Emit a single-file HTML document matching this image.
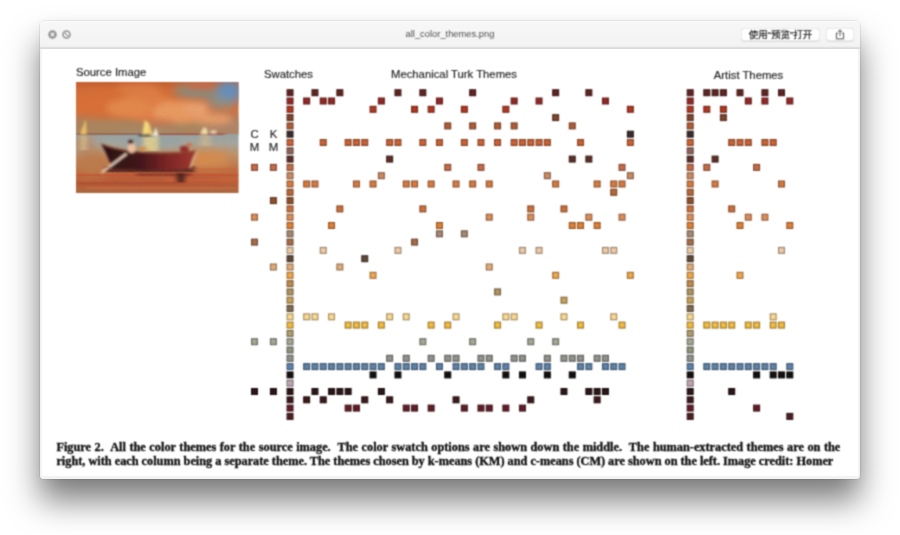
<!DOCTYPE html>
<html lang="zh-CN">
<head>
<meta charset="utf-8">
<title>all_color_themes.png</title>
<style>
html,body{margin:0;padding:0;}
body{width:900px;height:535px;background:#fff;overflow:hidden;position:relative;font-family:"Liberation Sans","Noto Sans CJK SC",sans-serif;}
.win{position:absolute;left:40px;top:21px;width:820px;height:457.7px;background:#f3f3f3;border-radius:4px 4px 3px 3px;
 box-shadow:0 0 0 0.6px rgba(0,0,0,.12),0 22px 32px rgba(0,0,0,.5),0 4px 14px rgba(0,0,0,.05);}
.bar{position:absolute;left:0;top:0;width:820px;height:27.4px;border-bottom:1.2px solid #dadada;box-sizing:border-box;border-radius:4px 4px 0 0;background:linear-gradient(#f7f7f7,#f3f3f3);box-shadow:inset 0 0.6px 0 #fff;filter:url(#soft);}
.title{position:absolute;left:0;right:0;top:7.4px;text-align:center;font-size:9.35px;line-height:12px;color:#505050;}
.tl{position:absolute;top:8.9px;width:9px;height:9px;}
.btn{position:absolute;top:6.5px;height:13px;background:#fff;border:0.5px solid #ebebeb;border-radius:3px;box-sizing:border-box;font-size:9.5px;line-height:12.5px;color:#222;text-align:center;box-shadow:0 0.6px 0.8px rgba(0,0,0,.1);-webkit-text-stroke:0.2px #222;}
.doc{position:absolute;left:2px;top:28px;width:815.5px;height:426.5px;background:#fff;overflow:hidden;filter:url(#soft);}
.lab{position:absolute;font-size:11.3px;line-height:13px;color:#1c1c1c;white-space:nowrap;-webkit-text-stroke:0.15px #1c1c1c;}
.cm{position:absolute;font-size:11.4px;line-height:12.7px;color:#1c1c1c;text-align:center;width:14px;-webkit-text-stroke:0.15px #1c1c1c;}
.grid{position:absolute;left:0;top:0;}
.cap{position:absolute;left:14.4px;top:390.7px;width:790px;font-family:"Liberation Serif",serif;font-weight:bold;font-size:12.3px;line-height:14px;color:#0c0c0c;-webkit-text-stroke:0.32px #0c0c0c;}
.cap div{white-space:pre;}
.pic{position:absolute;left:34.2px;top:33.2px;width:162.5px;height:111.2px;overflow:hidden;}
</style>
</head>
<body>
<svg width="0" height="0" style="position:absolute"><defs><filter id="soft" x="0" y="0" width="100%" height="100%" color-interpolation-filters="sRGB"><feConvolveMatrix order="3" kernelMatrix="0.0484 0.1232 0.0484 0.1232 0.3136 0.1232 0.0484 0.1232 0.0484" divisor="1" edgeMode="duplicate" preserveAlpha="false"/></filter></defs></svg>
<div class="win">
  <div class="bar">
    <svg class="tl" style="left:7.7px" viewBox="0 0 9 9"><circle cx="4.5" cy="4.5" r="4.25" fill="#939393"/><path d="M2.8 2.8L6.2 6.2M6.2 2.8L2.8 6.2" stroke="#f5f5f5" stroke-width="1.3" fill="none"/></svg>
    <svg class="tl" style="left:21.6px" viewBox="0 0 9 9"><circle cx="4.5" cy="4.5" r="4.25" fill="#939393"/><circle cx="4.5" cy="4.5" r="2.7" fill="#f5f5f5"/><path d="M2.6 2.6L6.4 6.4" stroke="#939393" stroke-width="1.3" fill="none"/></svg>
    <div class="title">all_color_themes.png</div>
    <div class="btn" style="left:701px;width:79px;">使用“预览”打开</div>
    <div class="btn" style="left:786px;width:28px;"><svg width="10" height="11" viewBox="0 0 10 11" style="position:absolute;left:7.9px;top:0.4px"><path d="M3.1 4.1H1.4V9.9H8.6V4.1H6.9" fill="none" stroke="#505050" stroke-width="1"/><path d="M5 7V1M3.1 2.8L5 0.9L6.9 2.8" fill="none" stroke="#505050" stroke-width="1"/></svg></div>
  </div>
  <div class="doc">
    <div class="lab" style="left:34px;top:16.5px;">Source Image</div>
    <div class="lab" style="left:222px;top:19px;">Swatches</div>
    <div class="lab" style="left:349px;top:19px;">Mechanical Turk Themes</div>
    <div class="lab" style="left:671.8px;top:19.5px;">Artist Themes</div>
    <div class="cm" style="left:205.5px;top:79.45px;">C<br>M</div>
    <div class="cm" style="left:224.5px;top:79.45px;">K<br>M</div>
    <div class="pic"><svg width="162.5" height="111.2" viewBox="0 0 162 111" preserveAspectRatio="none" style="display:block">
<defs>
<linearGradient id="sky" x1="0" y1="0" x2="0" y2="1">
<stop offset="0" stop-color="#c45e2e"/><stop offset="0.15" stop-color="#d36a34"/><stop offset="0.5" stop-color="#d8703a"/><stop offset="0.64" stop-color="#c0764a"/><stop offset="0.78" stop-color="#a8855f"/><stop offset="1" stop-color="#a98560"/>
</linearGradient>
<linearGradient id="sea" x1="0" y1="0" x2="0" y2="1">
<stop offset="0" stop-color="#96a4a6"/><stop offset="0.16" stop-color="#a4a8a0"/><stop offset="0.36" stop-color="#bc9068"/><stop offset="0.6" stop-color="#bf6e40"/><stop offset="0.85" stop-color="#b85c36"/><stop offset="1" stop-color="#ab6840"/>
</linearGradient>
<linearGradient id="hull" x1="0" y1="0" x2="1" y2="0">
<stop offset="0" stop-color="#2a1016"/><stop offset="0.4" stop-color="#40161a"/><stop offset="0.7" stop-color="#7e2626"/><stop offset="1" stop-color="#a03a30"/>
</linearGradient>
<filter id="b1" filterUnits="userSpaceOnUse" x="-5" y="-5" width="172" height="121"><feGaussianBlur stdDeviation="1.1"/></filter>
<filter id="b3" filterUnits="userSpaceOnUse" x="-20" y="-20" width="202" height="151"><feGaussianBlur stdDeviation="3"/></filter>
<filter id="b5" filterUnits="userSpaceOnUse" x="-20" y="-20" width="202" height="151"><feGaussianBlur stdDeviation="5"/></filter>
<filter id="bh" filterUnits="userSpaceOnUse" x="-20" y="-20" width="202" height="151"><feGaussianBlur stdDeviation="2.2 0.7"/></filter>
<filter id="tx" filterUnits="userSpaceOnUse" x="0" y="0" width="162" height="111"><feTurbulence type="fractalNoise" baseFrequency="0.35 0.6" numOctaves="2" seed="4"/><feColorMatrix type="matrix" values="0 0 0 0 0.45  0 0 0 0 0.2  0 0 0 0 0.1  0.9 0.9 0 0 -0.72"/></filter>
</defs>
<rect width="162" height="53" fill="url(#sky)"/>
<g filter="url(#b5)">
<ellipse cx="28" cy="22" rx="34" ry="12" fill="#d96e36"/>
<ellipse cx="152" cy="10" rx="13" ry="12" fill="#5c90c4"/>
<ellipse cx="120" cy="9" rx="22" ry="7" fill="#7c9088"/>
<ellipse cx="144" cy="21" rx="15" ry="6" fill="#8a9086"/>
<ellipse cx="150" cy="44" rx="20" ry="6" fill="#b0846c"/>
</g>
<g filter="url(#b3)">
<ellipse cx="70" cy="24" rx="28" ry="15" fill="#e07e44"/>
<ellipse cx="104" cy="30" rx="28" ry="11" fill="#ea9a60"/><ellipse cx="52" cy="26" rx="22" ry="9" fill="#e4884c"/>
<ellipse cx="136" cy="37" rx="20" ry="5.500" fill="#e69c6a"/>
<ellipse cx="124" cy="4" rx="17" ry="3" fill="#d8643c"/>
<ellipse cx="120" cy="26" rx="12" ry="6" fill="#eaa272"/>
<ellipse cx="62" cy="7" rx="22" ry="5" fill="#dc7c42"/>
<ellipse cx="84" cy="40" rx="14" ry="3" fill="#cc7650"/>
</g>
<rect y="52" width="162" height="59" fill="url(#sea)"/>
<g filter="url(#b5)">
<ellipse cx="130" cy="77" rx="24" ry="9" fill="#d68c50"/>
<ellipse cx="18" cy="82" rx="18" ry="12" fill="#bc7a4c"/>
<ellipse cx="74" cy="59" rx="34" ry="5" fill="#93a4aa"/><ellipse cx="6" cy="62" rx="14" ry="8" fill="#b48c70"/>
<ellipse cx="80" cy="100" rx="70" ry="6" fill="#b85634"/>
</g>
<g filter="url(#bh)">
<rect x="0" y="51.200" width="62" height="1.600" fill="#8a4a38" opacity=".7"/>
<rect x="80" y="51.200" width="68" height="1.800" fill="#a04034" opacity=".7"/>
<rect x="4" y="54" width="7" height="14" fill="#d8c08a" opacity=".7"/>
<rect x="67" y="55" width="15" height="14" fill="#e4d490" opacity=".85"/>
<rect x="124" y="54" width="10" height="10" fill="#d8c090" opacity=".55"/>
<rect x="0" y="92" width="162" height="2" fill="#c84c30" opacity=".7"/>
<rect x="90" y="97" width="72" height="2" fill="#d06038" opacity=".7"/>
<rect x="0" y="100" width="110" height="2.400" fill="#a8482c" opacity=".7"/>
<rect x="10" y="105" width="150" height="2" fill="#c07048" opacity=".7"/>
<rect x="110" y="86" width="50" height="2" fill="#c8643a" opacity=".6"/>
<rect x="30" y="84" width="88" height="6" fill="#4a1c1c" opacity=".85"/>
<rect x="60" y="91" width="56" height="3" fill="#7a2c24" opacity=".6"/>
<rect x="100" y="91" width="9" height="9" fill="#3a1818" opacity=".8"/>
</g>
<rect width="162" height="111" filter="url(#tx)" opacity=".3"/>
<g filter="url(#b1)">
<path d="M9.800 37L4 52.500H10.500Z" fill="#ecc068"/>
<path d="M68.500 38L66 53.500H74.500L72.500 41Z" fill="#f4d87c"/>
<path d="M73 41.500L71 53H76.500Z" fill="#eccc70"/>
<path d="M79.500 45.500L76.500 54H82.500Z" fill="#f8f0d0"/>
<path d="M127 45.500L123.500 52.500H132L130 46Z" fill="#f0dca8"/>
<rect x="134" y="48.500" width="6" height="3" fill="#eed8c0"/>
<rect x="62" y="52.200" width="12" height="1.600" fill="#3a2018"/>
<path d="M24.500 61.500C40 68 60 70.500 82 70.500C98 70.500 110 70 119.500 68.500L121 70.500C118 76 116 81 114 86.500C90 88.500 60 88 36 86C33 78 29 68 24.500 61.500Z" fill="url(#hull)"/>
<path d="M25 62C40 68 62 71 84 71C98 71 110 70.300 119 69" stroke="#8a4a30" stroke-width="1.100" fill="none"/>
<path d="M120.500 69.500C117.500 75 115.500 80 114 86" stroke="#f0c8a0" stroke-width="1.300" fill="none"/>
<path d="M50.500 71.500L25.500 90.500" stroke="#f0d8c0" stroke-width="2" fill="none"/>
<ellipse cx="55.500" cy="66" rx="4" ry="5" fill="#ecc0a0"/>
<ellipse cx="54.500" cy="59.800" rx="2.600" ry="2.200" fill="#4a2418"/>

<ellipse cx="108" cy="67" rx="4.500" ry="3.300" fill="#94302c"/>
<ellipse cx="113" cy="62.500" rx="2.800" ry="1.900" fill="#c87048"/>
<ellipse cx="66" cy="66.500" rx="5" ry="1.800" fill="#d09048"/>
</g>
</svg>
</div>
    <svg class="grid" width="815" height="426" viewBox="0 0 815 426"><g stroke-width="1.15"><rect x="245.12" y="40.78" width="5.85" height="5.85" fill="#622422" stroke="#3f1918"/><rect x="645.28" y="40.78" width="5.85" height="5.85" fill="#622422" stroke="#3f1918"/><rect x="270.02" y="40.78" width="5.85" height="5.85" fill="#622422" stroke="#3f1918"/><rect x="294.93" y="40.78" width="5.85" height="5.85" fill="#622422" stroke="#3f1918"/><rect x="353.03" y="40.78" width="5.85" height="5.85" fill="#622422" stroke="#3f1918"/><rect x="377.93" y="40.78" width="5.85" height="5.85" fill="#622422" stroke="#3f1918"/><rect x="427.73" y="40.78" width="5.85" height="5.85" fill="#622422" stroke="#3f1918"/><rect x="510.73" y="40.78" width="5.85" height="5.85" fill="#622422" stroke="#3f1918"/><rect x="543.93" y="40.78" width="5.85" height="5.85" fill="#622422" stroke="#3f1918"/><rect x="661.88" y="40.78" width="5.85" height="5.85" fill="#622422" stroke="#3f1918"/><rect x="670.18" y="40.78" width="5.85" height="5.85" fill="#622422" stroke="#3f1918"/><rect x="678.48" y="40.78" width="5.85" height="5.85" fill="#622422" stroke="#3f1918"/><rect x="695.08" y="40.78" width="5.85" height="5.85" fill="#622422" stroke="#3f1918"/><rect x="719.98" y="40.78" width="5.85" height="5.85" fill="#622422" stroke="#3f1918"/><rect x="736.58" y="40.78" width="5.85" height="5.85" fill="#622422" stroke="#3f1918"/><rect x="245.12" y="49.08" width="5.85" height="5.85" fill="#942825" stroke="#601d1c"/><rect x="645.28" y="49.08" width="5.85" height="5.85" fill="#942825" stroke="#601d1c"/><rect x="261.73" y="49.08" width="5.85" height="5.85" fill="#942825" stroke="#601d1c"/><rect x="278.32" y="49.08" width="5.85" height="5.85" fill="#942825" stroke="#601d1c"/><rect x="286.62" y="49.08" width="5.85" height="5.85" fill="#942825" stroke="#601d1c"/><rect x="336.43" y="49.08" width="5.85" height="5.85" fill="#942825" stroke="#601d1c"/><rect x="394.53" y="49.08" width="5.85" height="5.85" fill="#942825" stroke="#601d1c"/><rect x="469.23" y="49.08" width="5.85" height="5.85" fill="#942825" stroke="#601d1c"/><rect x="494.13" y="49.08" width="5.85" height="5.85" fill="#942825" stroke="#601d1c"/><rect x="560.53" y="49.08" width="5.85" height="5.85" fill="#942825" stroke="#601d1c"/><rect x="703.38" y="49.08" width="5.85" height="5.85" fill="#942825" stroke="#601d1c"/><rect x="719.98" y="49.08" width="5.85" height="5.85" fill="#942825" stroke="#601d1c"/><rect x="744.88" y="49.08" width="5.85" height="5.85" fill="#942825" stroke="#601d1c"/><rect x="245.12" y="57.38" width="5.85" height="5.85" fill="#b13821" stroke="#73281b"/><rect x="645.28" y="57.38" width="5.85" height="5.85" fill="#b13821" stroke="#73281b"/><rect x="328.12" y="57.38" width="5.85" height="5.85" fill="#b13821" stroke="#73281b"/><rect x="369.62" y="57.38" width="5.85" height="5.85" fill="#b13821" stroke="#73281b"/><rect x="386.23" y="57.38" width="5.85" height="5.85" fill="#b13821" stroke="#73281b"/><rect x="419.43" y="57.38" width="5.85" height="5.85" fill="#b13821" stroke="#73281b"/><rect x="460.93" y="57.38" width="5.85" height="5.85" fill="#b13821" stroke="#73281b"/><rect x="585.43" y="57.38" width="5.85" height="5.85" fill="#b13821" stroke="#73281b"/><rect x="661.88" y="57.38" width="5.85" height="5.85" fill="#b13821" stroke="#73281b"/><rect x="678.48" y="57.38" width="5.85" height="5.85" fill="#b13821" stroke="#73281b"/><rect x="245.12" y="65.68" width="5.85" height="5.85" fill="#81452d" stroke="#542f20"/><rect x="645.28" y="65.68" width="5.85" height="5.85" fill="#81452d" stroke="#542f20"/><rect x="510.73" y="65.68" width="5.85" height="5.85" fill="#81452d" stroke="#542f20"/><rect x="678.48" y="65.68" width="5.85" height="5.85" fill="#81452d" stroke="#542f20"/><rect x="245.12" y="73.98" width="5.85" height="5.85" fill="#b15d35" stroke="#733f27"/><rect x="645.28" y="73.98" width="5.85" height="5.85" fill="#b15d35" stroke="#733f27"/><rect x="402.82" y="73.98" width="5.85" height="5.85" fill="#b15d35" stroke="#733f27"/><rect x="427.73" y="73.98" width="5.85" height="5.85" fill="#b15d35" stroke="#733f27"/><rect x="452.63" y="73.98" width="5.85" height="5.85" fill="#b15d35" stroke="#733f27"/><rect x="469.23" y="73.98" width="5.85" height="5.85" fill="#b15d35" stroke="#733f27"/><rect x="527.33" y="73.98" width="5.85" height="5.85" fill="#b15d35" stroke="#733f27"/><rect x="245.12" y="82.27" width="5.85" height="5.85" fill="#3c2b2d" stroke="#271c1d"/><rect x="645.28" y="82.27" width="5.85" height="5.85" fill="#3c2b2d" stroke="#271c1d"/><rect x="585.43" y="82.27" width="5.85" height="5.85" fill="#3c2b2d" stroke="#271c1d"/><rect x="245.12" y="90.57" width="5.85" height="5.85" fill="#cc6234" stroke="#854427"/><rect x="645.28" y="90.57" width="5.85" height="5.85" fill="#cc6234" stroke="#854427"/><rect x="278.32" y="90.57" width="5.85" height="5.85" fill="#cc6234" stroke="#854427"/><rect x="303.23" y="90.57" width="5.85" height="5.85" fill="#cc6234" stroke="#854427"/><rect x="311.53" y="90.57" width="5.85" height="5.85" fill="#cc6234" stroke="#854427"/><rect x="319.82" y="90.57" width="5.85" height="5.85" fill="#cc6234" stroke="#854427"/><rect x="344.73" y="90.57" width="5.85" height="5.85" fill="#cc6234" stroke="#854427"/><rect x="353.03" y="90.57" width="5.85" height="5.85" fill="#cc6234" stroke="#854427"/><rect x="377.93" y="90.57" width="5.85" height="5.85" fill="#cc6234" stroke="#854427"/><rect x="394.53" y="90.57" width="5.85" height="5.85" fill="#cc6234" stroke="#854427"/><rect x="419.43" y="90.57" width="5.85" height="5.85" fill="#cc6234" stroke="#854427"/><rect x="436.03" y="90.57" width="5.85" height="5.85" fill="#cc6234" stroke="#854427"/><rect x="452.63" y="90.57" width="5.85" height="5.85" fill="#cc6234" stroke="#854427"/><rect x="469.23" y="90.57" width="5.85" height="5.85" fill="#cc6234" stroke="#854427"/><rect x="477.53" y="90.57" width="5.85" height="5.85" fill="#cc6234" stroke="#854427"/><rect x="485.83" y="90.57" width="5.85" height="5.85" fill="#cc6234" stroke="#854427"/><rect x="494.13" y="90.57" width="5.85" height="5.85" fill="#cc6234" stroke="#854427"/><rect x="502.43" y="90.57" width="5.85" height="5.85" fill="#cc6234" stroke="#854427"/><rect x="535.62" y="90.57" width="5.85" height="5.85" fill="#cc6234" stroke="#854427"/><rect x="585.43" y="90.57" width="5.85" height="5.85" fill="#cc6234" stroke="#854427"/><rect x="686.78" y="90.57" width="5.85" height="5.85" fill="#cc6234" stroke="#854427"/><rect x="695.08" y="90.57" width="5.85" height="5.85" fill="#cc6234" stroke="#854427"/><rect x="703.38" y="90.57" width="5.85" height="5.85" fill="#cc6234" stroke="#854427"/><rect x="719.98" y="90.57" width="5.85" height="5.85" fill="#cc6234" stroke="#854427"/><rect x="728.28" y="90.57" width="5.85" height="5.85" fill="#cc6234" stroke="#854427"/><rect x="245.12" y="98.88" width="5.85" height="5.85" fill="#906358" stroke="#5d423b"/><rect x="645.28" y="98.88" width="5.85" height="5.85" fill="#906358" stroke="#5d423b"/><rect x="245.12" y="107.18" width="5.85" height="5.85" fill="#5e2f26" stroke="#3d201b"/><rect x="645.28" y="107.18" width="5.85" height="5.85" fill="#5e2f26" stroke="#3d201b"/><rect x="344.73" y="107.18" width="5.85" height="5.85" fill="#5e2f26" stroke="#3d201b"/><rect x="527.33" y="107.18" width="5.85" height="5.85" fill="#5e2f26" stroke="#3d201b"/><rect x="543.93" y="107.18" width="5.85" height="5.85" fill="#5e2f26" stroke="#3d201b"/><rect x="670.18" y="107.18" width="5.85" height="5.85" fill="#5e2f26" stroke="#3d201b"/><rect x="245.12" y="115.47" width="5.85" height="5.85" fill="#c66b48" stroke="#814933"/><rect x="645.28" y="115.47" width="5.85" height="5.85" fill="#c66b48" stroke="#814933"/><rect x="402.82" y="115.47" width="5.85" height="5.85" fill="#c66b48" stroke="#814933"/><rect x="436.03" y="115.47" width="5.85" height="5.85" fill="#c66b48" stroke="#814933"/><rect x="577.12" y="115.47" width="5.85" height="5.85" fill="#c66b48" stroke="#814933"/><rect x="661.88" y="115.47" width="5.85" height="5.85" fill="#c66b48" stroke="#814933"/><rect x="711.68" y="115.47" width="5.85" height="5.85" fill="#c66b48" stroke="#814933"/><rect x="209.57" y="115.47" width="5.85" height="5.85" fill="#c66b48" stroke="#814933"/><rect x="228.47" y="115.47" width="5.85" height="5.85" fill="#c66b48" stroke="#814933"/><rect x="245.12" y="123.77" width="5.85" height="5.85" fill="#cc8a64" stroke="#855c45"/><rect x="645.28" y="123.77" width="5.85" height="5.85" fill="#cc8a64" stroke="#855c45"/><rect x="336.43" y="123.77" width="5.85" height="5.85" fill="#cc8a64" stroke="#855c45"/><rect x="502.43" y="123.77" width="5.85" height="5.85" fill="#cc8a64" stroke="#855c45"/><rect x="585.43" y="123.77" width="5.85" height="5.85" fill="#cc8a64" stroke="#855c45"/><rect x="245.12" y="132.07" width="5.85" height="5.85" fill="#d87a3e" stroke="#8d522e"/><rect x="645.28" y="132.07" width="5.85" height="5.85" fill="#d87a3e" stroke="#8d522e"/><rect x="261.73" y="132.07" width="5.85" height="5.85" fill="#d87a3e" stroke="#8d522e"/><rect x="270.02" y="132.07" width="5.85" height="5.85" fill="#d87a3e" stroke="#8d522e"/><rect x="311.53" y="132.07" width="5.85" height="5.85" fill="#d87a3e" stroke="#8d522e"/><rect x="328.12" y="132.07" width="5.85" height="5.85" fill="#d87a3e" stroke="#8d522e"/><rect x="361.32" y="132.07" width="5.85" height="5.85" fill="#d87a3e" stroke="#8d522e"/><rect x="369.62" y="132.07" width="5.85" height="5.85" fill="#d87a3e" stroke="#8d522e"/><rect x="386.23" y="132.07" width="5.85" height="5.85" fill="#d87a3e" stroke="#8d522e"/><rect x="411.12" y="132.07" width="5.85" height="5.85" fill="#d87a3e" stroke="#8d522e"/><rect x="427.73" y="132.07" width="5.85" height="5.85" fill="#d87a3e" stroke="#8d522e"/><rect x="444.32" y="132.07" width="5.85" height="5.85" fill="#d87a3e" stroke="#8d522e"/><rect x="510.73" y="132.07" width="5.85" height="5.85" fill="#d87a3e" stroke="#8d522e"/><rect x="552.23" y="132.07" width="5.85" height="5.85" fill="#d87a3e" stroke="#8d522e"/><rect x="568.83" y="132.07" width="5.85" height="5.85" fill="#d87a3e" stroke="#8d522e"/><rect x="577.12" y="132.07" width="5.85" height="5.85" fill="#d87a3e" stroke="#8d522e"/><rect x="670.18" y="132.07" width="5.85" height="5.85" fill="#d87a3e" stroke="#8d522e"/><rect x="736.58" y="132.07" width="5.85" height="5.85" fill="#d87a3e" stroke="#8d522e"/><rect x="245.12" y="140.38" width="5.85" height="5.85" fill="#b76837" stroke="#774628"/><rect x="645.28" y="140.38" width="5.85" height="5.85" fill="#b76837" stroke="#774628"/><rect x="568.83" y="140.38" width="5.85" height="5.85" fill="#b76837" stroke="#774628"/><rect x="245.12" y="148.68" width="5.85" height="5.85" fill="#90502c" stroke="#5d3620"/><rect x="645.28" y="148.68" width="5.85" height="5.85" fill="#90502c" stroke="#5d3620"/><rect x="228.47" y="148.68" width="5.85" height="5.85" fill="#90502c" stroke="#5d3620"/><rect x="245.12" y="156.98" width="5.85" height="5.85" fill="#cc6f3a" stroke="#854c2b"/><rect x="645.28" y="156.98" width="5.85" height="5.85" fill="#cc6f3a" stroke="#854c2b"/><rect x="294.93" y="156.98" width="5.85" height="5.85" fill="#cc6f3a" stroke="#854c2b"/><rect x="377.93" y="156.98" width="5.85" height="5.85" fill="#cc6f3a" stroke="#854c2b"/><rect x="485.83" y="156.98" width="5.85" height="5.85" fill="#cc6f3a" stroke="#854c2b"/><rect x="519.03" y="156.98" width="5.85" height="5.85" fill="#cc6f3a" stroke="#854c2b"/><rect x="686.78" y="156.98" width="5.85" height="5.85" fill="#cc6f3a" stroke="#854c2b"/><rect x="245.12" y="165.28" width="5.85" height="5.85" fill="#dc8d58" stroke="#905f3e"/><rect x="645.28" y="165.28" width="5.85" height="5.85" fill="#dc8d58" stroke="#905f3e"/><rect x="444.32" y="165.28" width="5.85" height="5.85" fill="#dc8d58" stroke="#905f3e"/><rect x="485.83" y="165.28" width="5.85" height="5.85" fill="#dc8d58" stroke="#905f3e"/><rect x="543.93" y="165.28" width="5.85" height="5.85" fill="#dc8d58" stroke="#905f3e"/><rect x="577.12" y="165.28" width="5.85" height="5.85" fill="#dc8d58" stroke="#905f3e"/><rect x="703.38" y="165.28" width="5.85" height="5.85" fill="#dc8d58" stroke="#905f3e"/><rect x="719.98" y="165.28" width="5.85" height="5.85" fill="#dc8d58" stroke="#905f3e"/><rect x="209.57" y="165.28" width="5.85" height="5.85" fill="#dc8d58" stroke="#905f3e"/><rect x="245.12" y="173.57" width="5.85" height="5.85" fill="#e18035" stroke="#925728"/><rect x="645.28" y="173.57" width="5.85" height="5.85" fill="#e18035" stroke="#925728"/><rect x="286.62" y="173.57" width="5.85" height="5.85" fill="#e18035" stroke="#925728"/><rect x="394.53" y="173.57" width="5.85" height="5.85" fill="#e18035" stroke="#925728"/><rect x="527.33" y="173.57" width="5.85" height="5.85" fill="#e18035" stroke="#925728"/><rect x="535.62" y="173.57" width="5.85" height="5.85" fill="#e18035" stroke="#925728"/><rect x="552.23" y="173.57" width="5.85" height="5.85" fill="#e18035" stroke="#925728"/><rect x="695.08" y="173.57" width="5.85" height="5.85" fill="#e18035" stroke="#925728"/><rect x="744.88" y="173.57" width="5.85" height="5.85" fill="#e18035" stroke="#925728"/><rect x="245.12" y="181.88" width="5.85" height="5.85" fill="#a68871" stroke="#6c594c"/><rect x="645.28" y="181.88" width="5.85" height="5.85" fill="#a68871" stroke="#6c594c"/><rect x="394.53" y="181.88" width="5.85" height="5.85" fill="#a68871" stroke="#6c594c"/><rect x="419.43" y="181.88" width="5.85" height="5.85" fill="#a68871" stroke="#6c594c"/><rect x="245.12" y="190.18" width="5.85" height="5.85" fill="#a66d4a" stroke="#6c4933"/><rect x="645.28" y="190.18" width="5.85" height="5.85" fill="#a66d4a" stroke="#6c4933"/><rect x="369.62" y="190.18" width="5.85" height="5.85" fill="#a66d4a" stroke="#6c4933"/><rect x="209.57" y="190.18" width="5.85" height="5.85" fill="#a66d4a" stroke="#6c4933"/><rect x="245.12" y="198.48" width="5.85" height="5.85" fill="#edcaa7" stroke="#9b856f"/><rect x="645.28" y="198.48" width="5.85" height="5.85" fill="#edcaa7" stroke="#9b856f"/><rect x="278.32" y="198.48" width="5.85" height="5.85" fill="#edcaa7" stroke="#9b856f"/><rect x="353.03" y="198.48" width="5.85" height="5.85" fill="#edcaa7" stroke="#9b856f"/><rect x="477.53" y="198.48" width="5.85" height="5.85" fill="#edcaa7" stroke="#9b856f"/><rect x="494.13" y="198.48" width="5.85" height="5.85" fill="#edcaa7" stroke="#9b856f"/><rect x="560.53" y="198.48" width="5.85" height="5.85" fill="#edcaa7" stroke="#9b856f"/><rect x="568.83" y="198.48" width="5.85" height="5.85" fill="#edcaa7" stroke="#9b856f"/><rect x="736.58" y="198.48" width="5.85" height="5.85" fill="#edcaa7" stroke="#9b856f"/><rect x="245.12" y="206.77" width="5.85" height="5.85" fill="#604a38" stroke="#3e3026"/><rect x="645.28" y="206.77" width="5.85" height="5.85" fill="#604a38" stroke="#3e3026"/><rect x="319.82" y="206.77" width="5.85" height="5.85" fill="#604a38" stroke="#3e3026"/><rect x="245.12" y="215.07" width="5.85" height="5.85" fill="#e1ac77" stroke="#927251"/><rect x="645.28" y="215.07" width="5.85" height="5.85" fill="#e1ac77" stroke="#927251"/><rect x="294.93" y="215.07" width="5.85" height="5.85" fill="#e1ac77" stroke="#927251"/><rect x="444.32" y="215.07" width="5.85" height="5.85" fill="#e1ac77" stroke="#927251"/><rect x="228.47" y="215.07" width="5.85" height="5.85" fill="#e1ac77" stroke="#927251"/><rect x="245.12" y="223.38" width="5.85" height="5.85" fill="#f1a64a" stroke="#9d6f36"/><rect x="645.28" y="223.38" width="5.85" height="5.85" fill="#f1a64a" stroke="#9d6f36"/><rect x="328.12" y="223.38" width="5.85" height="5.85" fill="#f1a64a" stroke="#9d6f36"/><rect x="510.73" y="223.38" width="5.85" height="5.85" fill="#f1a64a" stroke="#9d6f36"/><rect x="585.43" y="223.38" width="5.85" height="5.85" fill="#f1a64a" stroke="#9d6f36"/><rect x="695.08" y="223.38" width="5.85" height="5.85" fill="#f1a64a" stroke="#9d6f36"/><rect x="245.12" y="231.68" width="5.85" height="5.85" fill="#bf8a4d" stroke="#7d5c36"/><rect x="645.28" y="231.68" width="5.85" height="5.85" fill="#bf8a4d" stroke="#7d5c36"/><rect x="245.12" y="239.98" width="5.85" height="5.85" fill="#af945f" stroke="#726141"/><rect x="645.28" y="239.98" width="5.85" height="5.85" fill="#af945f" stroke="#726141"/><rect x="452.63" y="239.98" width="5.85" height="5.85" fill="#af945f" stroke="#726141"/><rect x="245.12" y="248.28" width="5.85" height="5.85" fill="#c8a059" stroke="#826a3e"/><rect x="645.28" y="248.28" width="5.85" height="5.85" fill="#c8a059" stroke="#826a3e"/><rect x="519.03" y="248.28" width="5.85" height="5.85" fill="#c8a059" stroke="#826a3e"/><rect x="245.12" y="256.57" width="5.85" height="5.85" fill="#816d50" stroke="#544836"/><rect x="645.28" y="256.57" width="5.85" height="5.85" fill="#816d50" stroke="#544836"/><rect x="245.12" y="264.88" width="5.85" height="5.85" fill="#fbd890" stroke="#a38e61"/><rect x="645.28" y="264.88" width="5.85" height="5.85" fill="#fbd890" stroke="#a38e61"/><rect x="261.73" y="264.88" width="5.85" height="5.85" fill="#fbd890" stroke="#a38e61"/><rect x="270.02" y="264.88" width="5.85" height="5.85" fill="#fbd890" stroke="#a38e61"/><rect x="286.62" y="264.88" width="5.85" height="5.85" fill="#fbd890" stroke="#a38e61"/><rect x="344.73" y="264.88" width="5.85" height="5.85" fill="#fbd890" stroke="#a38e61"/><rect x="361.32" y="264.88" width="5.85" height="5.85" fill="#fbd890" stroke="#a38e61"/><rect x="411.12" y="264.88" width="5.85" height="5.85" fill="#fbd890" stroke="#a38e61"/><rect x="460.93" y="264.88" width="5.85" height="5.85" fill="#fbd890" stroke="#a38e61"/><rect x="469.23" y="264.88" width="5.85" height="5.85" fill="#fbd890" stroke="#a38e61"/><rect x="519.03" y="264.88" width="5.85" height="5.85" fill="#fbd890" stroke="#a38e61"/><rect x="568.83" y="264.88" width="5.85" height="5.85" fill="#fbd890" stroke="#a38e61"/><rect x="728.28" y="264.88" width="5.85" height="5.85" fill="#fbd890" stroke="#a38e61"/><rect x="245.12" y="273.18" width="5.85" height="5.85" fill="#f2bb3c" stroke="#9e7c2e"/><rect x="645.28" y="273.18" width="5.85" height="5.85" fill="#f2bb3c" stroke="#9e7c2e"/><rect x="303.23" y="273.18" width="5.85" height="5.85" fill="#f2bb3c" stroke="#9e7c2e"/><rect x="311.53" y="273.18" width="5.85" height="5.85" fill="#f2bb3c" stroke="#9e7c2e"/><rect x="319.82" y="273.18" width="5.85" height="5.85" fill="#f2bb3c" stroke="#9e7c2e"/><rect x="336.43" y="273.18" width="5.85" height="5.85" fill="#f2bb3c" stroke="#9e7c2e"/><rect x="386.23" y="273.18" width="5.85" height="5.85" fill="#f2bb3c" stroke="#9e7c2e"/><rect x="402.82" y="273.18" width="5.85" height="5.85" fill="#f2bb3c" stroke="#9e7c2e"/><rect x="452.63" y="273.18" width="5.85" height="5.85" fill="#f2bb3c" stroke="#9e7c2e"/><rect x="494.13" y="273.18" width="5.85" height="5.85" fill="#f2bb3c" stroke="#9e7c2e"/><rect x="535.62" y="273.18" width="5.85" height="5.85" fill="#f2bb3c" stroke="#9e7c2e"/><rect x="577.12" y="273.18" width="5.85" height="5.85" fill="#f2bb3c" stroke="#9e7c2e"/><rect x="661.88" y="273.18" width="5.85" height="5.85" fill="#f2bb3c" stroke="#9e7c2e"/><rect x="670.18" y="273.18" width="5.85" height="5.85" fill="#f2bb3c" stroke="#9e7c2e"/><rect x="678.48" y="273.18" width="5.85" height="5.85" fill="#f2bb3c" stroke="#9e7c2e"/><rect x="686.78" y="273.18" width="5.85" height="5.85" fill="#f2bb3c" stroke="#9e7c2e"/><rect x="703.38" y="273.18" width="5.85" height="5.85" fill="#f2bb3c" stroke="#9e7c2e"/><rect x="711.68" y="273.18" width="5.85" height="5.85" fill="#f2bb3c" stroke="#9e7c2e"/><rect x="728.28" y="273.18" width="5.85" height="5.85" fill="#f2bb3c" stroke="#9e7c2e"/><rect x="736.58" y="273.18" width="5.85" height="5.85" fill="#f2bb3c" stroke="#9e7c2e"/><rect x="245.12" y="281.48" width="5.85" height="5.85" fill="#af9d71" stroke="#72674c"/><rect x="645.28" y="281.48" width="5.85" height="5.85" fill="#af9d71" stroke="#72674c"/><rect x="245.12" y="289.78" width="5.85" height="5.85" fill="#a6a695" stroke="#6c6c61"/><rect x="645.28" y="289.78" width="5.85" height="5.85" fill="#a6a695" stroke="#6c6c61"/><rect x="377.93" y="289.78" width="5.85" height="5.85" fill="#a6a695" stroke="#6c6c61"/><rect x="427.73" y="289.78" width="5.85" height="5.85" fill="#a6a695" stroke="#6c6c61"/><rect x="485.83" y="289.78" width="5.85" height="5.85" fill="#a6a695" stroke="#6c6c61"/><rect x="510.73" y="289.78" width="5.85" height="5.85" fill="#a6a695" stroke="#6c6c61"/><rect x="209.57" y="289.78" width="5.85" height="5.85" fill="#a6a695" stroke="#6c6c61"/><rect x="228.47" y="289.78" width="5.85" height="5.85" fill="#a6a695" stroke="#6c6c61"/><rect x="245.12" y="298.07" width="5.85" height="5.85" fill="#929280" stroke="#5f5f54"/><rect x="645.28" y="298.07" width="5.85" height="5.85" fill="#929280" stroke="#5f5f54"/><rect x="245.12" y="306.38" width="5.85" height="5.85" fill="#92928d" stroke="#5f5f5c"/><rect x="645.28" y="306.38" width="5.85" height="5.85" fill="#92928d" stroke="#5f5f5c"/><rect x="344.73" y="306.38" width="5.85" height="5.85" fill="#92928d" stroke="#5f5f5c"/><rect x="361.32" y="306.38" width="5.85" height="5.85" fill="#92928d" stroke="#5f5f5c"/><rect x="386.23" y="306.38" width="5.85" height="5.85" fill="#92928d" stroke="#5f5f5c"/><rect x="402.82" y="306.38" width="5.85" height="5.85" fill="#92928d" stroke="#5f5f5c"/><rect x="411.12" y="306.38" width="5.85" height="5.85" fill="#92928d" stroke="#5f5f5c"/><rect x="436.03" y="306.38" width="5.85" height="5.85" fill="#92928d" stroke="#5f5f5c"/><rect x="444.32" y="306.38" width="5.85" height="5.85" fill="#92928d" stroke="#5f5f5c"/><rect x="469.23" y="306.38" width="5.85" height="5.85" fill="#92928d" stroke="#5f5f5c"/><rect x="477.53" y="306.38" width="5.85" height="5.85" fill="#92928d" stroke="#5f5f5c"/><rect x="502.43" y="306.38" width="5.85" height="5.85" fill="#92928d" stroke="#5f5f5c"/><rect x="519.03" y="306.38" width="5.85" height="5.85" fill="#92928d" stroke="#5f5f5c"/><rect x="527.33" y="306.38" width="5.85" height="5.85" fill="#92928d" stroke="#5f5f5c"/><rect x="535.62" y="306.38" width="5.85" height="5.85" fill="#92928d" stroke="#5f5f5c"/><rect x="552.23" y="306.38" width="5.85" height="5.85" fill="#92928d" stroke="#5f5f5c"/><rect x="560.53" y="306.38" width="5.85" height="5.85" fill="#92928d" stroke="#5f5f5c"/><rect x="245.12" y="314.68" width="5.85" height="5.85" fill="#5e82a8" stroke="#3f566e"/><rect x="645.28" y="314.68" width="5.85" height="5.85" fill="#5e82a8" stroke="#3f566e"/><rect x="261.73" y="314.68" width="5.85" height="5.85" fill="#5e82a8" stroke="#3f566e"/><rect x="270.02" y="314.68" width="5.85" height="5.85" fill="#5e82a8" stroke="#3f566e"/><rect x="278.32" y="314.68" width="5.85" height="5.85" fill="#5e82a8" stroke="#3f566e"/><rect x="286.62" y="314.68" width="5.85" height="5.85" fill="#5e82a8" stroke="#3f566e"/><rect x="294.93" y="314.68" width="5.85" height="5.85" fill="#5e82a8" stroke="#3f566e"/><rect x="303.23" y="314.68" width="5.85" height="5.85" fill="#5e82a8" stroke="#3f566e"/><rect x="311.53" y="314.68" width="5.85" height="5.85" fill="#5e82a8" stroke="#3f566e"/><rect x="319.82" y="314.68" width="5.85" height="5.85" fill="#5e82a8" stroke="#3f566e"/><rect x="328.12" y="314.68" width="5.85" height="5.85" fill="#5e82a8" stroke="#3f566e"/><rect x="336.43" y="314.68" width="5.85" height="5.85" fill="#5e82a8" stroke="#3f566e"/><rect x="353.03" y="314.68" width="5.85" height="5.85" fill="#5e82a8" stroke="#3f566e"/><rect x="361.32" y="314.68" width="5.85" height="5.85" fill="#5e82a8" stroke="#3f566e"/><rect x="369.62" y="314.68" width="5.85" height="5.85" fill="#5e82a8" stroke="#3f566e"/><rect x="377.93" y="314.68" width="5.85" height="5.85" fill="#5e82a8" stroke="#3f566e"/><rect x="394.53" y="314.68" width="5.85" height="5.85" fill="#5e82a8" stroke="#3f566e"/><rect x="411.12" y="314.68" width="5.85" height="5.85" fill="#5e82a8" stroke="#3f566e"/><rect x="419.43" y="314.68" width="5.85" height="5.85" fill="#5e82a8" stroke="#3f566e"/><rect x="427.73" y="314.68" width="5.85" height="5.85" fill="#5e82a8" stroke="#3f566e"/><rect x="436.03" y="314.68" width="5.85" height="5.85" fill="#5e82a8" stroke="#3f566e"/><rect x="452.63" y="314.68" width="5.85" height="5.85" fill="#5e82a8" stroke="#3f566e"/><rect x="460.93" y="314.68" width="5.85" height="5.85" fill="#5e82a8" stroke="#3f566e"/><rect x="494.13" y="314.68" width="5.85" height="5.85" fill="#5e82a8" stroke="#3f566e"/><rect x="502.43" y="314.68" width="5.85" height="5.85" fill="#5e82a8" stroke="#3f566e"/><rect x="535.62" y="314.68" width="5.85" height="5.85" fill="#5e82a8" stroke="#3f566e"/><rect x="543.93" y="314.68" width="5.85" height="5.85" fill="#5e82a8" stroke="#3f566e"/><rect x="560.53" y="314.68" width="5.85" height="5.85" fill="#5e82a8" stroke="#3f566e"/><rect x="568.83" y="314.68" width="5.85" height="5.85" fill="#5e82a8" stroke="#3f566e"/><rect x="577.12" y="314.68" width="5.85" height="5.85" fill="#5e82a8" stroke="#3f566e"/><rect x="661.88" y="314.68" width="5.85" height="5.85" fill="#5e82a8" stroke="#3f566e"/><rect x="670.18" y="314.68" width="5.85" height="5.85" fill="#5e82a8" stroke="#3f566e"/><rect x="678.48" y="314.68" width="5.85" height="5.85" fill="#5e82a8" stroke="#3f566e"/><rect x="686.78" y="314.68" width="5.85" height="5.85" fill="#5e82a8" stroke="#3f566e"/><rect x="695.08" y="314.68" width="5.85" height="5.85" fill="#5e82a8" stroke="#3f566e"/><rect x="703.38" y="314.68" width="5.85" height="5.85" fill="#5e82a8" stroke="#3f566e"/><rect x="711.68" y="314.68" width="5.85" height="5.85" fill="#5e82a8" stroke="#3f566e"/><rect x="719.98" y="314.68" width="5.85" height="5.85" fill="#5e82a8" stroke="#3f566e"/><rect x="728.28" y="314.68" width="5.85" height="5.85" fill="#5e82a8" stroke="#3f566e"/><rect x="744.88" y="314.68" width="5.85" height="5.85" fill="#5e82a8" stroke="#3f566e"/><rect x="245.12" y="322.98" width="5.85" height="5.85" fill="#151010" stroke="#0d0a0a"/><rect x="645.28" y="322.98" width="5.85" height="5.85" fill="#151010" stroke="#0d0a0a"/><rect x="328.12" y="322.98" width="5.85" height="5.85" fill="#151010" stroke="#0d0a0a"/><rect x="353.03" y="322.98" width="5.85" height="5.85" fill="#151010" stroke="#0d0a0a"/><rect x="402.82" y="322.98" width="5.85" height="5.85" fill="#151010" stroke="#0d0a0a"/><rect x="460.93" y="322.98" width="5.85" height="5.85" fill="#151010" stroke="#0d0a0a"/><rect x="477.53" y="322.98" width="5.85" height="5.85" fill="#151010" stroke="#0d0a0a"/><rect x="502.43" y="322.98" width="5.85" height="5.85" fill="#151010" stroke="#0d0a0a"/><rect x="527.33" y="322.98" width="5.85" height="5.85" fill="#151010" stroke="#0d0a0a"/><rect x="711.68" y="322.98" width="5.85" height="5.85" fill="#151010" stroke="#0d0a0a"/><rect x="728.28" y="322.98" width="5.85" height="5.85" fill="#151010" stroke="#0d0a0a"/><rect x="736.58" y="322.98" width="5.85" height="5.85" fill="#151010" stroke="#0d0a0a"/><rect x="744.88" y="322.98" width="5.85" height="5.85" fill="#151010" stroke="#0d0a0a"/><rect x="245.12" y="331.27" width="5.85" height="5.85" fill="#bfa5b2" stroke="#7d6c74"/><rect x="645.28" y="331.27" width="5.85" height="5.85" fill="#bfa5b2" stroke="#7d6c74"/><rect x="245.12" y="339.57" width="5.85" height="5.85" fill="#2c1618" stroke="#1c0e10"/><rect x="645.28" y="339.57" width="5.85" height="5.85" fill="#2c1618" stroke="#1c0e10"/><rect x="270.02" y="339.57" width="5.85" height="5.85" fill="#2c1618" stroke="#1c0e10"/><rect x="286.62" y="339.57" width="5.85" height="5.85" fill="#2c1618" stroke="#1c0e10"/><rect x="294.93" y="339.57" width="5.85" height="5.85" fill="#2c1618" stroke="#1c0e10"/><rect x="303.23" y="339.57" width="5.85" height="5.85" fill="#2c1618" stroke="#1c0e10"/><rect x="336.43" y="339.57" width="5.85" height="5.85" fill="#2c1618" stroke="#1c0e10"/><rect x="519.03" y="339.57" width="5.85" height="5.85" fill="#2c1618" stroke="#1c0e10"/><rect x="543.93" y="339.57" width="5.85" height="5.85" fill="#2c1618" stroke="#1c0e10"/><rect x="552.23" y="339.57" width="5.85" height="5.85" fill="#2c1618" stroke="#1c0e10"/><rect x="560.53" y="339.57" width="5.85" height="5.85" fill="#2c1618" stroke="#1c0e10"/><rect x="686.78" y="339.57" width="5.85" height="5.85" fill="#2c1618" stroke="#1c0e10"/><rect x="209.57" y="339.57" width="5.85" height="5.85" fill="#2c1618" stroke="#1c0e10"/><rect x="228.47" y="339.57" width="5.85" height="5.85" fill="#2c1618" stroke="#1c0e10"/><rect x="245.12" y="347.88" width="5.85" height="5.85" fill="#3c191d" stroke="#271114"/><rect x="645.28" y="347.88" width="5.85" height="5.85" fill="#3c191d" stroke="#271114"/><rect x="261.73" y="347.88" width="5.85" height="5.85" fill="#3c191d" stroke="#271114"/><rect x="278.32" y="347.88" width="5.85" height="5.85" fill="#3c191d" stroke="#271114"/><rect x="319.82" y="347.88" width="5.85" height="5.85" fill="#3c191d" stroke="#271114"/><rect x="344.73" y="347.88" width="5.85" height="5.85" fill="#3c191d" stroke="#271114"/><rect x="411.12" y="347.88" width="5.85" height="5.85" fill="#3c191d" stroke="#271114"/><rect x="485.83" y="347.88" width="5.85" height="5.85" fill="#3c191d" stroke="#271114"/><rect x="552.23" y="347.88" width="5.85" height="5.85" fill="#3c191d" stroke="#271114"/><rect x="245.12" y="356.18" width="5.85" height="5.85" fill="#621d27" stroke="#3f151b"/><rect x="645.28" y="356.18" width="5.85" height="5.85" fill="#621d27" stroke="#3f151b"/><rect x="303.23" y="356.18" width="5.85" height="5.85" fill="#621d27" stroke="#3f151b"/><rect x="311.53" y="356.18" width="5.85" height="5.85" fill="#621d27" stroke="#3f151b"/><rect x="361.32" y="356.18" width="5.85" height="5.85" fill="#621d27" stroke="#3f151b"/><rect x="369.62" y="356.18" width="5.85" height="5.85" fill="#621d27" stroke="#3f151b"/><rect x="386.23" y="356.18" width="5.85" height="5.85" fill="#621d27" stroke="#3f151b"/><rect x="419.43" y="356.18" width="5.85" height="5.85" fill="#621d27" stroke="#3f151b"/><rect x="436.03" y="356.18" width="5.85" height="5.85" fill="#621d27" stroke="#3f151b"/><rect x="444.32" y="356.18" width="5.85" height="5.85" fill="#621d27" stroke="#3f151b"/><rect x="460.93" y="356.18" width="5.85" height="5.85" fill="#621d27" stroke="#3f151b"/><rect x="477.53" y="356.18" width="5.85" height="5.85" fill="#621d27" stroke="#3f151b"/><rect x="711.68" y="356.18" width="5.85" height="5.85" fill="#621d27" stroke="#3f151b"/><rect x="245.12" y="364.48" width="5.85" height="5.85" fill="#4d1f23" stroke="#321518"/><rect x="645.28" y="364.48" width="5.85" height="5.85" fill="#4d1f23" stroke="#321518"/><rect x="744.88" y="364.48" width="5.85" height="5.85" fill="#4d1f23" stroke="#321518"/></g></svg>
    <div class="cap"><div style="word-spacing:0.47px">Figure 2.  All the color themes for the source image.  The color swatch options are shown down the middle.  The human-extracted themes are on the</div><div style="word-spacing:-0.06px">right, with each column being a separate theme. The themes chosen by k-means (KM) and c-means (CM) are shown on the left. Image credit: Homer</div></div>
  </div>
</div>
</body>
</html>
